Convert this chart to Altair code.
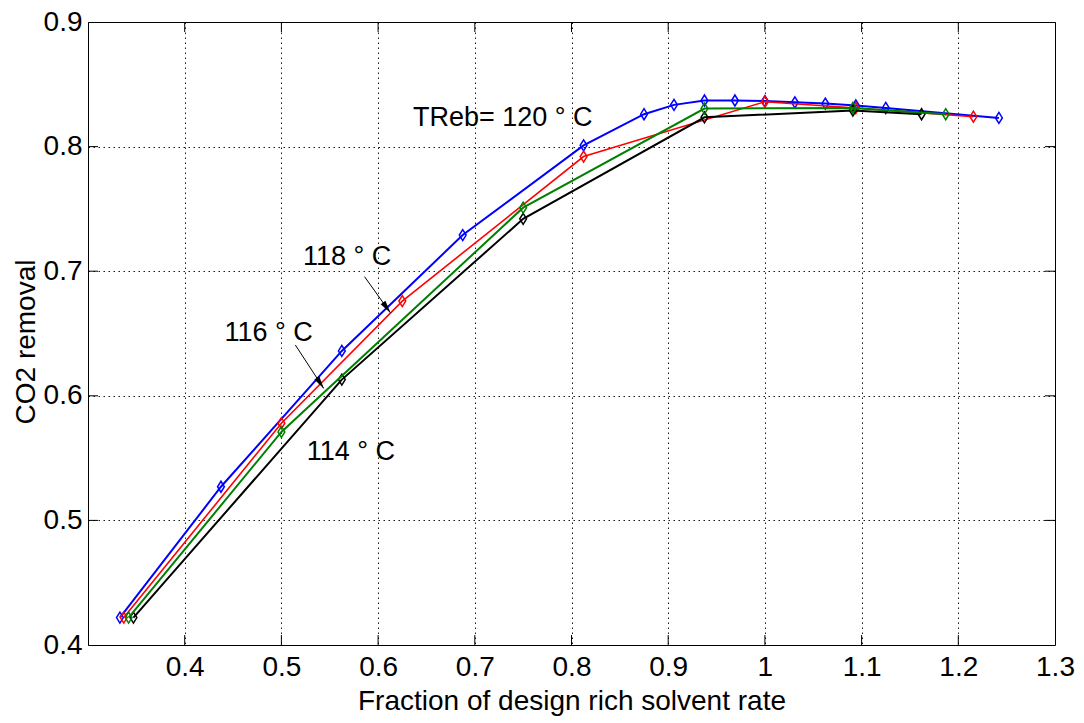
import altair as alt
import pandas as pd

# ---- data ----
blue_x = [0.333, 0.4375, 0.5625, 0.6875, 0.8125, 0.875, 0.906, 0.9375, 0.969, 1.0, 1.031, 1.0625, 1.094, 1.125, 1.242]
blue_y = [0.422, 0.527, 0.636, 0.729, 0.801, 0.826, 0.8335, 0.837, 0.837, 0.8365, 0.8355, 0.8345, 0.833, 0.831, 0.823]
red_x = [0.337, 0.5, 0.625, 0.8125, 1.0, 1.094, 1.2156]
red_y = [0.422, 0.578, 0.676, 0.792, 0.836, 0.831, 0.824]
green_x = [0.342, 0.5, 0.75, 0.9375, 1.091, 1.187]
green_y = [0.422, 0.571, 0.751, 0.8305, 0.831, 0.826]
black_x = [0.347, 0.5625, 0.75, 0.9375, 1.091, 1.162]
black_y = [0.422, 0.613, 0.742, 0.8235, 0.829, 0.826]

x_ticks = [0.4, 0.5, 0.6, 0.7, 0.8, 0.9, 1.0, 1.1, 1.2, 1.3]
y_ticks = [0.4, 0.5, 0.6, 0.7, 0.8, 0.9]

ann_text = ["TReb= 120 ° C", "118 ° C", "116 ° C", "114 ° C"]
ann_x = [0.7289, 0.5679, 0.4868, 0.5718]
ann_y = [0.8227, 0.711, 0.6508, 0.5545]

arrow_x1 = [0.586, 0.5144]
arrow_y1 = [0.6956, 0.6408]
arrow_x2 = [0.6126, 0.5437]
arrow_y2 = [0.6667, 0.606]
head_x = [0.609, 0.5403]
head_y = [0.6706, 0.610]
head_angle = [144.5, 146.8]

W, H = 967, 623
FONT = "Liberation Sans, Arial, Helvetica, sans-serif"

x_scale = alt.Scale(domain=[0.3, 1.3], nice=False, zero=False)
y_scale = alt.Scale(domain=[0.4, 0.9], nice=False, zero=False)

x_axis = alt.Axis(
    values=x_ticks, labelExpr="datum.value == 1 ? '1' : format(datum.value, '.1f')",
    title="Fraction of design rich solvent rate", titleFont=FONT, titleFontSize=28,
    titleFontWeight="normal", titleColor="black", titleX=W / 2, titleY=56,
    titleBaseline="middle", titleAlign="center",
    labelFont=FONT, labelFontSize=28, labelColor="black", labelPadding=8,
    tickSize=0, domain=False, grid=True, gridDash=[1.5, 3.5], gridColor="black",
    gridWidth=1, gridOpacity=0.9, labelFlush=False,
)
y_axis = alt.Axis(
    values=y_ticks, format=".1f",
    title="CO2 removal", titleFont=FONT, titleFontSize=28, titleFontWeight="normal",
    titleColor="black", titleAngle=-90, titleX=-62, titleY=H / 2 + 8,
    titleBaseline="middle", titleAlign="center",
    labelFont=FONT, labelFontSize=28, labelColor="black", labelPadding=6,
    tickSize=0, domain=False, grid=True, gridDash=[1.5, 3.5], gridColor="black",
    gridWidth=1, gridOpacity=0.9, labelFlush=False,
)


def X(field):
    return alt.X(field, scale=x_scale, axis=x_axis)


def Y(field):
    return alt.Y(field, scale=y_scale, axis=y_axis)


DIAMOND = "M0,-1L0.62,0L0,1L-0.62,0Z"
ARROWHEAD = "M0,-1L0.45,1L-0.45,1Z"


def series(xs, ys, color, width):
    df = pd.DataFrame({"x": xs, "y": ys})
    line = alt.Chart(df).mark_line(color=color, strokeWidth=width).encode(x=X("x:Q"), y=Y("y:Q"))
    pts = alt.Chart(df).mark_point(
        shape=DIAMOND, size=121, filled=False, color=color, strokeWidth=1.5, opacity=1
    ).encode(x=X("x:Q"), y=Y("y:Q"))
    return [line, pts]


layers = []
layers += series(blue_x, blue_y, "#0000ff", 2.0)
layers += series(red_x, red_y, "#ff0000", 1.6)
layers += series(black_x, black_y, "#000000", 2.0)
layers += series(green_x, green_y, "#008000", 2.0)

# inward tick marks (MATLAB style)
xt = pd.DataFrame({"x": x_ticks[:-1]})
yt = pd.DataFrame({"y": y_ticks[1:-1]})
layers.append(alt.Chart(xt).mark_rule(color="black", strokeWidth=1).encode(x=X("x:Q"), y=alt.value(H), y2=alt.value(H - 10)))
layers.append(alt.Chart(xt).mark_rule(color="black", strokeWidth=1).encode(x=X("x:Q"), y=alt.value(0), y2=alt.value(10)))
layers.append(alt.Chart(yt).mark_rule(color="black", strokeWidth=1).encode(y=Y("y:Q"), x=alt.value(0), x2=alt.value(10)))
layers.append(alt.Chart(yt).mark_rule(color="black", strokeWidth=1).encode(y=Y("y:Q"), x=alt.value(W - 10), x2=alt.value(W)))

# annotations
ann = pd.DataFrame({"t": ann_text, "x": ann_x, "y": ann_y})
layers.append(
    alt.Chart(ann).mark_text(font=FONT, fontSize=27, color="black", align="center", baseline="middle").encode(
        x=X("x:Q"), y=Y("y:Q"), text="t:N"
    )
)
arr = pd.DataFrame({"x": arrow_x1, "y": arrow_y1, "x2": arrow_x2, "y2": arrow_y2})
layers.append(
    alt.Chart(arr).mark_rule(color="black", strokeWidth=1).encode(
        x=X("x:Q"), y=Y("y:Q"), x2="x2:Q", y2="y2:Q"
    )
)
heads = pd.DataFrame({"x": head_x, "y": head_y, "a": head_angle})
layers.append(
    alt.Chart(heads).mark_point(shape=ARROWHEAD, size=169, filled=True, color="black", opacity=1).encode(
        x=X("x:Q"), y=Y("y:Q"), angle=alt.Angle("a:Q", scale=None)
    )
)

chart = alt.layer(*layers).properties(
    width=W, height=H,
    background="white",
    autosize=alt.AutoSizeParams(type="none"),
    padding={"left": 88, "top": 22, "right": 29, "bottom": 78},
).configure_view(stroke="black", strokeWidth=1)

chart.save("out.html", embed_options={"renderer": "svg", "actions": False})
